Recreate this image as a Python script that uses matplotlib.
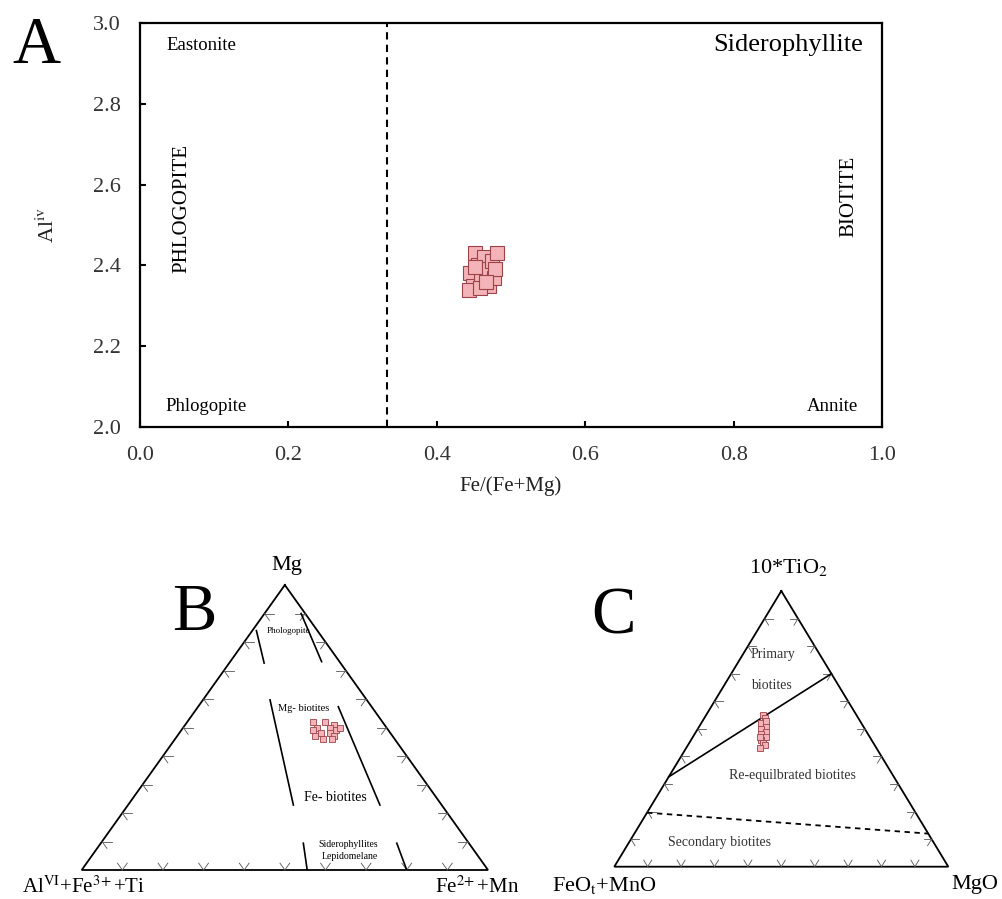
"""
Biotite classification: Al(iv) vs Fe/(Fe+Mg), Foster ternary and Nachit ternary
"""
import numpy as np
import matplotlib
matplotlib.use("Agg")
import matplotlib.pyplot as plt

plt.rcParams['font.family'] = ['Liberation Serif', 'DejaVu Serif']
plt.rcParams['mathtext.fontset'] = 'stix'

W, H = 1003, 899

# --- panel A data -------------------------------------------------------
fe_ratio = [0.445, 0.452, 0.449, 0.455, 0.460, 0.463, 0.468, 0.470,
            0.474, 0.477, 0.481, 0.478, 0.444, 0.458, 0.466, 0.452]
al_iv = [2.38, 2.43, 2.35, 2.40, 2.37, 2.42, 2.39, 2.35,
         2.41, 2.37, 2.43, 2.39, 2.34, 2.345, 2.36, 2.395]
x_ticks = [0.0, 0.2, 0.4, 0.6, 0.8, 1.0]
y_ticks = [2.0, 2.2, 2.4, 2.6, 2.8, 3.0]
phlog_biot_split = 1 / 3

# --- panel B data (Mg, AlVI+Fe3++Ti, Fe2++Mn) as fractions ---------------
b_mg = [0.52, 0.52, 0.51, 0.50, 0.50, 0.49, 0.49, 0.48, 0.48, 0.47, 0.47, 0.46, 0.46, 0.50]
b_fe = [0.31, 0.34, 0.365, 0.33, 0.36, 0.325, 0.38, 0.35, 0.37, 0.34, 0.385, 0.365, 0.385, 0.385]
# field boundaries: (Mg, Fe2+Mn) at each end
b_lines = [
    [(0.84, 0.01), (0.726, 0.086)],
    [(0.90, 0.09), (0.731, 0.225)],
    [(0.597, 0.165), (0.228, 0.407)],
    [(0.573, 0.345), (0.228, 0.620)],
    [(0.094, 0.4985), (0.0, 0.555)],
    [(0.094, 0.7285), (0.0, 0.80)],
]

# --- panel C data (10*TiO2, FeOt+MnO, MgO) -------------------------------
c_ti = [0.55, 0.54, 0.52, 0.51, 0.50, 0.49, 0.48, 0.47, 0.46, 0.45, 0.44, 0.43, 0.53, 0.47]
c_mgo = [0.17, 0.18, 0.18, 0.20, 0.19, 0.21, 0.20, 0.22, 0.21, 0.22, 0.23, 0.22, 0.19, 0.20]
c_solid = [(0.326, 0.0), (0.70, 0.30)]
c_dashed = [(0.196, 0.0), (0.12, 0.88)]

face = '#f3b3b8'
edge = '#9a4349'


def rect(left, top, right, bottom):
    return [left / W, 1 - bottom / H, (right - left) / W, (bottom - top) / H]


def tern(top, right):
    top = np.asarray(top, float)
    right = np.asarray(right, float)
    return right + top / 2, top


def triangle(ax, d=0.024):
    ax.plot(*tern([1, 0, 0, 1], [0, 0, 1, 0]), color='black', lw=1.3,
            solid_joinstyle='miter', clip_on=False)
    kw = dict(color='#555', lw=0.6, clip_on=False)
    for f in np.arange(0.1, 0.95, 0.1):
        # bottom edge
        for t, r in [((0, d), (f, f)), ((0, d), (f, f - d))]:
            ax.plot(*tern(t, r), **kw)
        # left edge
        for t, r in [((f, f), (0, d)), ((f, f - d), (0, d))]:
            ax.plot(*tern(t, r), **kw)
        # right edge
        for t, r in [((f, f), (1 - f, 1 - f - d)), ((f, f - d), (1 - f, 1 - f))]:
            ax.plot(*tern(t, r), **kw)
    ax.set_xlim(0, 1)
    ax.set_ylim(0, 1)
    ax.axis('off')


fig = plt.figure(figsize=(W / 100, H / 100), dpi=100)

# ================= A =================
axA = fig.add_axes(rect(140, 23, 882, 427))
axA.plot(fe_ratio, al_iv, 's', ms=10.5, mfc=face, mec=edge, mew=0.8, zorder=3)
axA.axvline(phlog_biot_split, color='black', lw=1.5, dashes=(3.5, 2.5))
axA.set_xlim(0, 1)
axA.set_ylim(2, 3)
axA.set_xticks(x_ticks)
axA.set_yticks(y_ticks)
axA.set_xticklabels([f'{v:.1f}' for v in x_ticks])
axA.set_yticklabels([f'{v:.1f}' for v in y_ticks])
axA.tick_params(direction='in', length=4, width=1.5, labelsize=16,
                labelcolor='#333', top=False, right=False)
axA.tick_params(axis='x', pad=14)
axA.tick_params(axis='y', pad=14)
for s in axA.spines.values():
    s.set_linewidth(1.6)
axA.set_xlabel('Fe/(Fe+Mg)', fontsize=15, color='#222', labelpad=8)
axA.set_ylabel(r'Al$^{\rm iv}$', fontsize=16, color='#222', labelpad=24)

axA.text(0.036, 2.945, 'Eastonite', fontsize=13.5, va='center', ha='left')
axA.text(0.975, 2.945, 'Siderophyllite', fontsize=19, va='center', ha='right')
axA.text(0.034, 2.05, 'Phlogopite', fontsize=13.5, va='center', ha='left')
axA.text(0.968, 2.05, 'Annite', fontsize=13.5, va='center', ha='right')
axA.text(0.057, 2.54, 'PHLOGOPITE', fontsize=15, rotation=90, va='center', ha='center')
axA.text(0.955, 2.57, 'BIOTITE', fontsize=15, rotation=90, va='center', ha='center')
fig.text(12 / W, 1 - 63 / H, 'A', fontsize=48, ha='left', va='baseline')

# ================= B =================
axB = fig.add_axes(rect(81.7, 585, 488, 870))
triangle(axB)
for (t0, r0), (t1, r1) in b_lines:
    axB.plot(*tern([t0, t1], [r0, r1]), color='black', lw=1.2)
axB.plot(*tern(b_mg, b_fe), 's', ms=5, mfc=face, mec=edge, mew=0.6, zorder=3)
axB.text(0.505, 1.035, 'Mg', fontsize=16, ha='center', va='bottom')
axB.text(-0.147, -0.08, r'Al$^{\rm VI}$+Fe$^{3\!+}$+Ti', fontsize=15, ha='left', va='baseline')
axB.text(0.87, -0.08, r'Fe$^{2\!+}$+Mn', fontsize=15, ha='left', va='baseline')
axB.text(0.508, 0.839, 'Phologopite', fontsize=6.5, ha='center', va='center')
axB.text(0.483, 0.568, 'Mg- biotites', fontsize=7.5, ha='left', va='center')
axB.text(0.624, 0.256, 'Fe- biotites', fontsize=10, ha='center', va='center')
axB.text(0.657, 0.09, 'Siderophyllites', fontsize=7, ha='center', va='center')
axB.text(0.66, 0.047, 'Lepidomelane', fontsize=7, ha='center', va='center')
axB.text(0.222, 0.842, 'B', fontsize=48, ha='left', va='baseline')

# ================= C =================
axC = fig.add_axes(rect(614.3, 591, 948.3, 866.7))
triangle(axC)
axC.plot(*tern([c_solid[0][0], c_solid[1][0]], [c_solid[0][1], c_solid[1][1]]),
         color='black', lw=1.2)
axC.plot(*tern([c_dashed[0][0], c_dashed[1][0]], [c_dashed[0][1], c_dashed[1][1]]),
         color='black', lw=1.3, dashes=(3, 2.5))
axC.plot(*tern(c_ti, c_mgo), 's', ms=5, mfc=face, mec=edge, mew=0.6, zorder=3)
axC.text(0.523, 1.047, r'10*TiO$_2$', fontsize=16, ha='center', va='bottom')
axC.text(-0.187, -0.03, r'FeO$_{\rm t}$+MnO', fontsize=16, ha='left', va='top')
axC.text(1.01, -0.03, 'MgO', fontsize=16, ha='left', va='top')
axC.text(0.475, 0.768, 'Primary', fontsize=10, ha='center', va='center', color='#333')
axC.text(0.471, 0.659, 'biotites', fontsize=10, ha='center', va='center', color='#333')
axC.text(0.534, 0.33, 'Re-equilbrated biotites', fontsize=10, ha='center', va='center', color='#333')
axC.text(0.316, 0.086, 'Secondary biotites', fontsize=10, ha='center', va='center', color='#333')
axC.text(-0.07, 0.847, 'C', fontsize=48, ha='left', va='baseline')

fig.savefig('out.png', dpi=100, facecolor='white')
